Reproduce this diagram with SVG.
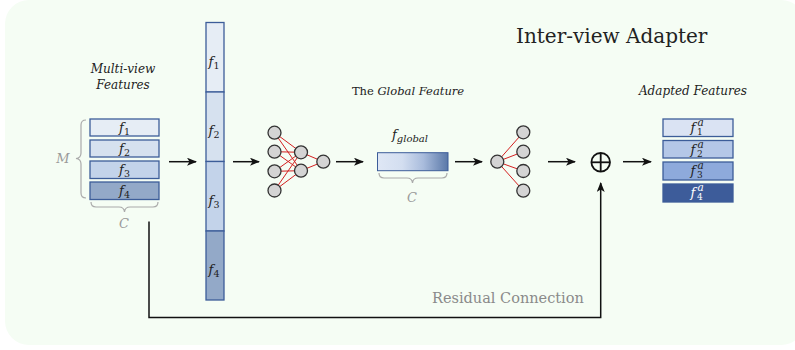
<svg xmlns="http://www.w3.org/2000/svg" width="795" height="350" viewBox="0 0 795 350">
<defs>
<marker id="ah" viewBox="0 0 10 8" refX="9" refY="4" markerWidth="10" markerHeight="8" markerUnits="userSpaceOnUse" orient="auto">
<path d="M0,0 L10,4 L0,8 L2.5,4 Z" fill="#111"/>
</marker>
<linearGradient id="gg" x1="0" y1="0" x2="1" y2="0">
<stop offset="0" stop-color="#dfe7f5"/>
<stop offset="0.35" stop-color="#d3def0"/>
<stop offset="0.65" stop-color="#a9bcdc"/>
<stop offset="1" stop-color="#5a78a8"/>
</linearGradient>
</defs>
<style>
.t{font-family:"DejaVu Serif","Liberation Serif",serif;fill:#222}
.i{font-style:italic}
.g{fill:#9a9a9a}
.box{stroke:#3c5d99;stroke-width:1.3}
.brace{fill:none;stroke:#aaaaaa;stroke-width:1.2}
.node{fill:#d4d4d4;stroke:#333;stroke-width:1.3}
.red{stroke:#d42020;stroke-width:1}
.conn{fill:none;stroke:#111;stroke-width:1.5}
.fl{font-family:"DejaVu Serif","Liberation Serif",serif;font-style:italic;font-size:13px;fill:#222;text-anchor:middle}
.sub{font-size:9.5px;font-style:normal}
.isub{font-size:10px;font-style:italic}
.sa{font-family:"DejaVu Serif","Liberation Serif",serif;font-style:italic;font-size:10.5px;fill:#222}
.sn{font-family:"DejaVu Serif","Liberation Serif",serif;font-size:9px;fill:#222}
.w{fill:#fff}
</style>
<rect x="5" y="0" width="800" height="345" rx="24" fill="#f5fdf4"/>
<text class="t" x="516" y="43" font-size="20">Inter-view Adapter</text>

<g id="multiview">
<text class="t i" x="123" y="73" font-size="12" text-anchor="middle">Multi-view</text>
<text class="t i" x="123" y="89" font-size="12" text-anchor="middle">Features</text>
<rect class="box" x="90" y="119" width="69" height="17" fill="#e6edf5"/>
<rect class="box" x="90" y="140" width="69" height="17" fill="#d6e1ef"/>
<rect class="box" x="90" y="161" width="69" height="17.5" fill="#c3d3ea"/>
<rect class="box" x="90" y="182" width="69" height="17.5" fill="#93a9c8"/>
<text class="fl" x="124.5" y="132">f<tspan class="sub" dy="3">1</tspan></text>
<text class="fl" x="124.5" y="153">f<tspan class="sub" dy="3">2</tspan></text>
<text class="fl" x="124.5" y="174">f<tspan class="sub" dy="3">3</tspan></text>
<text class="fl" x="124.5" y="195">f<tspan class="sub" dy="3">4</tspan></text>
<path class="brace" d="M86,120 Q81,120 81,125 L81,153 Q81,158 76,158.5 Q81,159 81,164 L81,193 Q81,198 86,198"/>
<text class="t i g" x="63" y="163" font-size="13" text-anchor="middle">M</text>
<path class="brace" d="M91,202 Q91,207 96,207 L119,207 Q124,207 124.5,212 Q125,207 130,207 L153,207 Q158,207 158,202"/>
<text class="t i g" x="124" y="228" font-size="13" text-anchor="middle">C</text>
</g>

<g id="column">
<rect class="box" x="206" y="22.5" width="18" height="69.5" fill="#e6edf5"/>
<rect class="box" x="206" y="92" width="18" height="69.5" fill="#d6e1ef"/>
<rect class="box" x="206" y="161.5" width="18" height="69.5" fill="#c3d3ea"/>
<rect class="box" x="206" y="231" width="18" height="69" fill="#93a9c8"/>
<text class="fl" x="214" y="66">f<tspan class="sub" dy="3">1</tspan></text>
<text class="fl" x="214" y="135">f<tspan class="sub" dy="3">2</tspan></text>
<text class="fl" x="214" y="205">f<tspan class="sub" dy="3">3</tspan></text>
<text class="fl" x="214" y="274">f<tspan class="sub" dy="3">4</tspan></text>
</g>

<g id="mlp1">
<g class="red">
<line x1="274.5" y1="132.7" x2="301" y2="152.3"/><line x1="274.5" y1="132.7" x2="301" y2="170.7"/>
<line x1="274.5" y1="151.7" x2="301" y2="152.3"/><line x1="274.5" y1="151.7" x2="301" y2="170.7"/>
<line x1="274.5" y1="171.3" x2="301" y2="152.3"/><line x1="274.5" y1="171.3" x2="301" y2="170.7"/>
<line x1="274.5" y1="190.5" x2="301" y2="152.3"/><line x1="274.5" y1="190.5" x2="301" y2="170.7"/>
<line x1="301" y1="152.3" x2="323.3" y2="161.7"/><line x1="301" y1="170.7" x2="323.3" y2="161.7"/>
</g>
<circle class="node" cx="274.5" cy="132.7" r="6.5"/>
<circle class="node" cx="274.5" cy="151.7" r="6.5"/>
<circle class="node" cx="274.5" cy="171.3" r="6.5"/>
<circle class="node" cx="274.5" cy="190.5" r="6.5"/>
<circle class="node" cx="301" cy="152.3" r="6.5"/>
<circle class="node" cx="301" cy="170.7" r="6.5"/>
<circle class="node" cx="323.3" cy="161.7" r="6.5"/>
</g>

<g id="global">
<text class="t" x="408" y="95" font-size="11.5" text-anchor="middle">The <tspan class="i">Global Feature</tspan></text>
<text class="fl" x="392" y="139" style="text-anchor:start">f<tspan class="isub" dy="3">global</tspan></text>
<rect x="377.5" y="152.7" width="70.5" height="18" fill="url(#gg)" stroke="#3c5d99" stroke-width="1"/>
<path class="brace" d="M379,173 Q379,178 384,178 L407,178 Q412,178 412.5,183 Q413,178 418,178 L442,178 Q447,178 447,173"/>
<text class="t i g" x="412" y="202" font-size="13" text-anchor="middle">C</text>
</g>

<g id="mlp2">
<g class="red">
<line x1="497.3" y1="161.7" x2="523.3" y2="132.3"/>
<line x1="497.3" y1="161.7" x2="523.3" y2="151.7"/>
<line x1="497.3" y1="161.7" x2="523.3" y2="171"/>
<line x1="497.3" y1="161.7" x2="523.3" y2="190.7"/>
</g>
<circle class="node" cx="497.3" cy="161.7" r="6.5"/>
<circle class="node" cx="523.3" cy="132.3" r="6.5"/>
<circle class="node" cx="523.3" cy="151.7" r="6.5"/>
<circle class="node" cx="523.3" cy="171" r="6.5"/>
<circle class="node" cx="523.3" cy="190.7" r="6.5"/>
</g>

<g id="add">
<circle cx="600.7" cy="162.3" r="9.3" fill="none" stroke="#111" stroke-width="1.8"/>
<line x1="591.4" y1="162.3" x2="610" y2="162.3" stroke="#111" stroke-width="1.8"/>
<line x1="600.7" y1="153" x2="600.7" y2="171.6" stroke="#111" stroke-width="1.8"/>
</g>

<g id="adapted">
<text class="t i" x="693" y="95" font-size="12" text-anchor="middle">Adapted Features</text>
<rect class="box" x="663" y="119" width="70" height="17.5" fill="#dae3f3" stroke="#3b5b97"/>
<rect class="box" x="663" y="140.5" width="70" height="17.5" fill="#b4c7e7" stroke="#3b5b97"/>
<rect class="box" x="663" y="162" width="70" height="18" fill="#8eaadb" stroke="#3b5b97"/>
<rect class="box" x="663" y="184" width="70" height="18" fill="#3d5c9a" stroke="#3b5b97"/>
<text class="fl" x="693" y="132">f</text><text class="sa" x="697.5" y="126">a</text><text class="sn" x="697" y="135">1</text>
<text class="fl" x="693" y="153.5">f</text><text class="sa" x="697.5" y="147.5">a</text><text class="sn" x="697" y="156.5">2</text>
<text class="fl" x="693" y="175">f</text><text class="sa" x="697.5" y="169">a</text><text class="sn" x="697" y="178">3</text>
<text class="fl w" x="693" y="197" style="fill:#fff">f</text><text class="sa" x="697.5" y="191" style="fill:#fff">a</text><text class="sn" x="697" y="200" style="fill:#fff">4</text>
</g>

<g id="connectors">
<line class="conn" x1="169" y1="161.7" x2="196" y2="161.7" marker-end="url(#ah)"/>
<line class="conn" x1="233" y1="161.7" x2="259" y2="161.7" marker-end="url(#ah)"/>
<line class="conn" x1="336" y1="161.7" x2="363" y2="161.7" marker-end="url(#ah)"/>
<line class="conn" x1="455" y1="161.7" x2="482" y2="161.7" marker-end="url(#ah)"/>
<line class="conn" x1="548" y1="161.7" x2="575" y2="161.7" marker-end="url(#ah)"/>
<line class="conn" x1="623" y1="161.7" x2="651" y2="161.7" marker-end="url(#ah)"/>
<path class="conn" d="M149,221.5 L149,317.5 L600.7,317.5 L600.7,183" marker-end="url(#ah)"/>
</g>
<text class="t" x="432" y="303" font-size="14.5" style="fill:#8a8a8a">Residual Connection</text>
</svg>
